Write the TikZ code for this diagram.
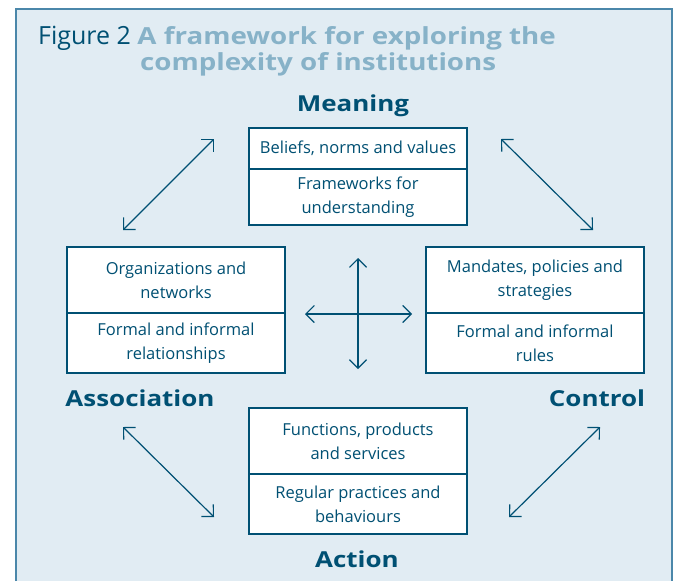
\documentclass[tikz,border=0pt]{standalone}
\usepackage{fontspec}
\setmainfont{Open Sans}
\newfontfamily\headfont{Open Sans}[FakeStretch=1.18]
\usetikzlibrary{arrows.meta}

\definecolor{panel}{RGB}{225,236,243}
\definecolor{rim}{RGB}{75,135,170}
\definecolor{ink}{RGB}{0,80,115}
\definecolor{titlelight}{RGB}{135,178,200}

\begin{document}
\begin{tikzpicture}[x=1pt,y=-1pt,
    part/.style={draw=ink, line width=1.1pt, fill=white, minimum width=218pt,
      inner sep=0pt, align=center, text=ink, font=\fontsize{16.5}{24}\selectfont},
    pole/.style={text=ink, font=\fontsize{22}{24}\selectfont\headfont\bfseries},
    link/.style={ink, line width=1.2pt,
      {Straight Barb[length=8.5pt,width=17pt]}-{Straight Barb[length=8.5pt,width=17pt]}}]

    \useasboundingbox (0,0) rectangle (677,581);

    % panel
    \fill[panel] (16,9) rectangle (672,581);
    \draw[rim, line width=1.2pt] (16,581) -- (16,9) -- (672,9) -- (672,581);

    % title
    \node[anchor=base west, inner sep=0pt, text=ink, font=\fontsize{25}{26}\selectfont] (title) at (38,44)
        {Figure 2 \textcolor{titlelight}{\fontsize{23.5}{26}\selectfont\headfont\bfseries A framework for exploring the}};
    \node[anchor=base west, inner sep=0pt, text=titlelight, font=\fontsize{23.5}{26}\selectfont\headfont\bfseries] (subtitle) at (140,70)
        {complexity of institutions};

    % Meaning
    \node[part, minimum height=41pt] (mean1) at (358,148.5) {Beliefs, norms and values};
    \node[part, minimum height=56pt] (mean2) at (358,197) {Frameworks for\\understanding};

    % Association
    \node[part, minimum height=66pt] (assoc1) at (176,280) {Organizations and\\networks};
    \node[part, minimum height=60pt] (assoc2) at (176,343) {Formal and informal\\relationships};

    % Control
    \node[part, minimum height=66pt] (ctrl1) at (535,280) {Mandates, policies and\\strategies};
    \node[part, minimum height=60pt] (ctrl2) at (535,343) {Formal and informal\\rules};

    % Action
    \node[part, minimum height=66pt] (act1) at (358,441) {Functions, products\\and services};
    \node[part, minimum height=60pt] (act2) at (358,504) {Regular practices and\\behaviours};

    % labels
    \node[pole] (meaning) at (353,106) {Meaning};
    \node[pole] (association) at (140,398) {Association};
    \node[pole] (control) at (597,398) {Control};
    \node[pole] (action) at (357,559) {Action};

    % arrow ends
    \coordinate (nwA) at (123,230);
    \coordinate (nwB) at (214,139);
    \coordinate (neA) at (501,139);
    \coordinate (neB) at (593,230);
    \coordinate (swA) at (123,427);
    \coordinate (swB) at (214,517);
    \coordinate (seA) at (600,427);
    \coordinate (seB) at (509,517);
    \coordinate (up) at (358,258);
    \coordinate (down) at (358,369);
    \coordinate (left) at (305,314);
    \coordinate (right) at (412,314);

    % arrows
    \draw[link] (nwA) -- (nwB);
    \draw[link] (neA) -- (neB);
    \draw[link] (swA) -- (swB);
    \draw[link] (seA) -- (seB);
    \draw[link] (up) -- (down);
    \draw[link] (left) -- (right);

\end{tikzpicture}
\end{document}
